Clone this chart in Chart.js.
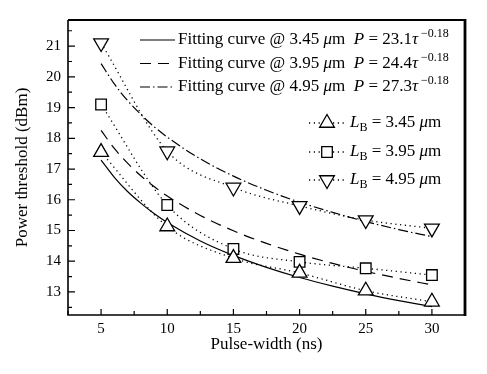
<!DOCTYPE html>
<html>
<head>
<meta charset="utf-8">
<script src="https://cdn.jsdelivr.net/npm/chart.js@4.4.0/dist/chart.umd.min.js"></script>
<style>
  html, body { margin: 0; padding: 0; background: #fff; }
  #chart { display: block; }
</style>
</head>
<body>
<canvas id="chart" width="487" height="374"></canvas>
<script>
// measured thresholds (dBm) vs pulse width (ns)
const pulseWidths = [5, 10, 15, 20, 25, 30];
const thresholdLB345 = [17.55, 15.13, 14.1, 13.62, 13.04, 12.68];
const thresholdLB395 = [19.1, 15.83, 14.4, 13.98, 13.77, 13.55];
const thresholdLB495 = [21.1, 17.58, 16.4, 15.8, 15.34, 15.07];

// fitting curves
const fitX = [5, 6, 7, 8, 9, 10, 12.5, 15, 17.5, 20, 22.5, 25, 27.5, 30];
const fit345 = [17.29, 16.73, 16.27, 15.89, 15.55, 15.26, 14.66, 14.19, 13.80, 13.47, 13.19, 12.94, 12.72, 12.52];
const fit395 = [18.26, 17.67, 17.19, 16.78, 16.43, 16.12, 15.49, 14.99, 14.58, 14.23, 13.93, 13.67, 13.44, 13.23];
const fit495 = [20.43, 19.77, 19.23, 18.78, 18.38, 18.04, 17.33, 16.77, 16.31, 15.92, 15.59, 15.29, 15.03, 14.80];

const barrierLengths = ['3.45', '3.95', '4.95'];
const fitCoefficients = ['23.1', '24.4', '27.3'];
const fitExponent = '\u22120.18';

const xTicks = [5, 10, 15, 20, 25, 30];
const yTicks = [13, 14, 15, 16, 17, 18, 19, 20, 21];

const SERIF = '"Liberation Serif", "DejaVu Serif", serif';

function toPoints(xs, ys) {
  return xs.map((x, i) => ({ x: x, y: ys[i] }));
}

const dotDash = [1.2, 3.6];
const fitDashes = [[], [11, 7], [10, 3, 1.5, 3]];
const markers = [
  { style: 'triangle', radius: 8.5, rotation: 0 },
  { style: 'rect', radius: 7.5, rotation: 0 },
  { style: 'triangle', radius: 8.5, rotation: 180 }
];

function dataSeries(ys, m) {
  return {
    data: toPoints(pulseWidths, ys),
    showLine: true,
    borderColor: '#000',
    borderWidth: 1.3,
    borderDash: dotDash,
    cubicInterpolationMode: 'monotone',
    pointStyle: m.style,
    pointRadius: m.radius,
    rotation: m.rotation,
    pointBorderWidth: 1.3,
    pointBackgroundColor: '#fff',
    pointBorderColor: '#000'
  };
}

function fitSeries(ys, dash) {
  return {
    data: toPoints(fitX, ys),
    showLine: true,
    borderColor: '#000',
    borderWidth: 1.2,
    borderDash: dash,
    cubicInterpolationMode: 'monotone',
    pointRadius: 0
  };
}

// draws text pieces one after another (mixed italic / superscript)
function drawRuns(ctx, x, y, runs) {
  runs.forEach(r => {
    ctx.font = r.font;
    ctx.fillText(r.text, x, y + (r.dy || 0));
    x += ctx.measureText(r.text).width;
  });
}

const frameAndLegend = {
  id: 'frameAndLegend',
  afterDraw(chart) {
    const ctx = chart.ctx;
    const a = chart.chartArea;
    const xs = chart.scales.x, ys = chart.scales.y;
    ctx.save();
    ctx.strokeStyle = '#000';
    ctx.fillStyle = '#000';

    // inside ticks
    ctx.lineWidth = 1.2;
    ctx.beginPath();
    for (let v = 2.5; v <= 32.5; v += 2.5) {
      const px = xs.getPixelForValue(v);
      const len = xTicks.includes(v) ? 6 : 4;
      ctx.moveTo(px, a.bottom);
      ctx.lineTo(px, a.bottom - len);
    }
    for (let v = 12.5; v <= 21.5; v += 0.5) {
      const py = ys.getPixelForValue(v);
      const len = yTicks.includes(v) ? 7 : 4;
      ctx.moveTo(a.left, py);
      ctx.lineTo(a.left + len, py);
    }
    ctx.stroke();

    // frame
    ctx.lineWidth = 1.6;
    ctx.beginPath();
    ctx.moveTo(a.left, a.top);
    ctx.lineTo(a.left, a.bottom);
    ctx.lineTo(a.right, a.bottom);
    ctx.stroke();
    ctx.lineWidth = 2.2;
    ctx.beginPath();
    ctx.moveTo(a.left, a.top);
    ctx.lineTo(a.right, a.top);
    ctx.stroke();
    ctx.lineWidth = 2.8;
    ctx.beginPath();
    ctx.moveTo(a.right, a.top - 1);
    ctx.lineTo(a.right, a.bottom + 1);
    ctx.stroke();

    const f = '17px ' + SERIF;
    const fi = 'italic 17px ' + SERIF;
    const fs = '12px ' + SERIF;
    ctx.textBaseline = 'middle';
    ctx.textAlign = 'left';

    // legend for fitting curves
    const fitRows = [40, 63.5, 87];
    fitRows.forEach((y, i) => {
      ctx.lineWidth = 1.2;
      ctx.setLineDash(fitDashes[i]);
      ctx.beginPath();
      ctx.moveTo(140, y);
      ctx.lineTo(175, y);
      ctx.stroke();
      ctx.setLineDash([]);
      drawRuns(ctx, 178, y, [
        { text: 'Fitting curve @ ' + barrierLengths[i] + ' ', font: f },
        { text: '\u03bc', font: fi },
        { text: 'm  ', font: f },
        { text: 'P', font: fi },
        { text: ' = ' + fitCoefficients[i], font: f },
        { text: '\u03c4', font: fi },
        { text: ' ' + fitExponent, font: fs, dy: -6 }
      ]);
    });

    // legend for measured data
    const dataRows = [123, 152, 180];
    dataRows.forEach((y, i) => {
      ctx.lineWidth = 1.3;
      ctx.setLineDash(dotDash);
      ctx.beginPath();
      ctx.moveTo(309, y);
      ctx.lineTo(344, y);
      ctx.stroke();
      ctx.setLineDash([]);
      ctx.fillStyle = '#fff';
      Chart.helpers.drawPoint(ctx, {
        pointStyle: markers[i].style,
        radius: markers[i].radius,
        rotation: markers[i].rotation,
        borderWidth: 1.3
      }, 327, y);
      ctx.fillStyle = '#000';
      drawRuns(ctx, 350, y, [
        { text: 'L', font: fi },
        { text: 'B', font: fs, dy: 5 },
        { text: ' = ' + barrierLengths[i] + ' ', font: f },
        { text: '\u03bc', font: fi },
        { text: 'm', font: f }
      ]);
    });
    ctx.restore();
  }
};

new Chart(document.getElementById('chart'), {
  type: 'scatter',
  data: {
    datasets: [
      dataSeries(thresholdLB345, markers[0]),
      dataSeries(thresholdLB395, markers[1]),
      dataSeries(thresholdLB495, markers[2]),
      fitSeries(fit345, fitDashes[0]),
      fitSeries(fit395, fitDashes[1]),
      fitSeries(fit495, fitDashes[2])
    ]
  },
  options: {
    responsive: false,
    animation: false,
    layout: { padding: { top: 20, right: 22, left: 0, bottom: 0 } },
    plugins: { legend: { display: false }, tooltip: { enabled: false } },
    scales: {
      x: {
        type: 'linear',
        min: 2.5,
        max: 32.5,
        afterBuildTicks: s => { s.ticks = xTicks.map(v => ({ value: v })); },
        afterFit: s => { s.height = 59; },
        grid: { display: false, drawTicks: false },
        border: { display: false },
        ticks: { color: '#000', font: { family: SERIF, size: 15 }, padding: 5, maxRotation: 0 },
        title: {
          display: true,
          text: 'Pulse-width (ns)',
          color: '#000',
          font: { family: SERIF, size: 17 },
          padding: { top: 0, bottom: 19 }
        }
      },
      y: {
        type: 'linear',
        min: 12.25,
        max: 21.85,
        afterBuildTicks: s => { s.ticks = yTicks.map(v => ({ value: v })); },
        afterFit: s => { s.width = 68; },
        grid: { display: false, drawTicks: false },
        border: { display: false },
        ticks: { color: '#000', font: { family: SERIF, size: 15 }, padding: 7 },
        title: {
          display: true,
          text: 'Power threshold (dBm)',
          color: '#000',
          font: { family: SERIF, size: 17 },
          padding: { top: 12, bottom: 0 }
        }
      }
    }
  },
  plugins: [frameAndLegend]
});
</script>
</body>
</html>
